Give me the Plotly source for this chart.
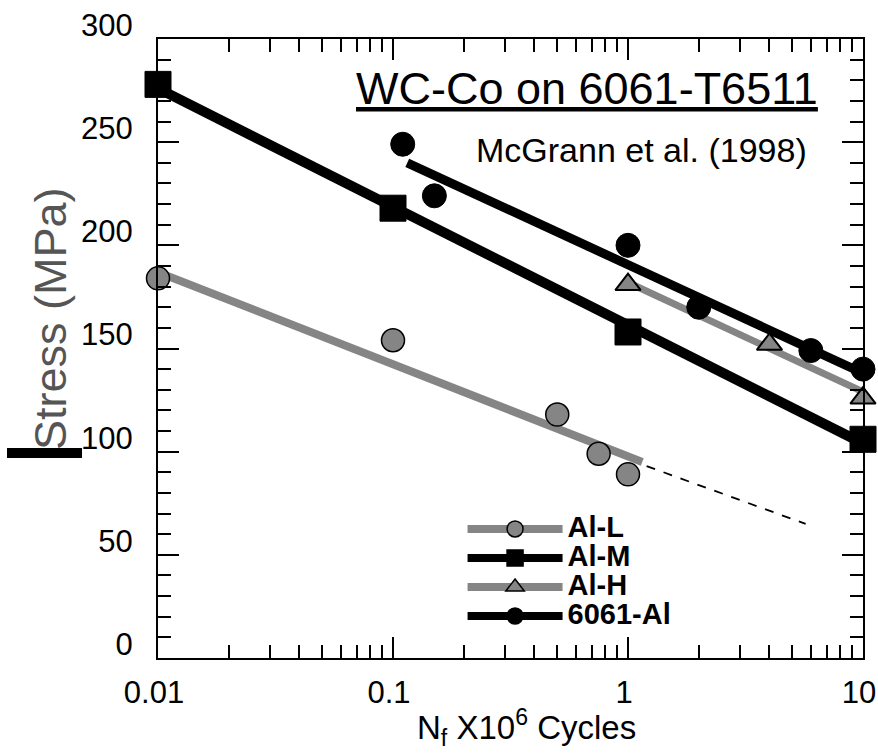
import plotly.graph_objects as go

# ---------------- data ----------------
al_l_x = [0.01, 0.1, 0.5, 0.75, 1.0]
al_l_y = [184, 154, 118, 99, 89]
al_m_x = [0.01, 0.1, 1.0, 10.0]
al_m_y = [278, 218, 158, 106]
al_h_x = [1.0, 4.0, 10.0]
al_h_y = [181, 152, 126]
al6061_x = [0.11, 0.15, 1.0, 2.0, 6.0, 10.0]
al6061_y = [249, 224, 200, 170, 149, 140]

# fitted lines (end points)
al_l_fit_x = [0.01, 1.15]
al_l_fit_y = [187, 95]
al_l_ext_x = [1.2, 5.7]
al_l_ext_y = [93, 65]
al_m_fit_x = [0.01, 10.0]
al_m_fit_y = [276, 104]
al_h_fit_x = [1.0, 10.0]
al_h_fit_y = [182, 129]
al6061_fit_x = [0.115, 10.0]
al6061_fit_y = [240, 138]

x_tickvals = [0.01, 0.1, 1, 10]
x_ticktext = ["0.01", "0.1", "1", "10"]
y_tickvals = [0, 50, 100, 150, 200, 250, 300]
y_ticktext = ["0", "50", "100", "150", "200", "250", "300"]

series_names = ["Al-L", "Al-M", "Al-H", "6061-Al"]

GRAY = "#858585"
BLACK = "#000000"
FONT = "Liberation Sans, Arial, sans-serif"

fig = go.Figure()

# fit lines
fig.add_trace(go.Scatter(x=al_l_fit_x, y=al_l_fit_y, mode="lines",
                         line=dict(color=GRAY, width=8), showlegend=False, hoverinfo="skip"))
fig.add_trace(go.Scatter(x=al_l_ext_x, y=al_l_ext_y, mode="lines",
                         line=dict(color=BLACK, width=1.8, dash="9px,9px"), showlegend=False, hoverinfo="skip"))
fig.add_trace(go.Scatter(x=al_m_fit_x, y=al_m_fit_y, mode="lines",
                         line=dict(color=BLACK, width=10), showlegend=False, hoverinfo="skip"))
fig.add_trace(go.Scatter(x=al_h_fit_x, y=al_h_fit_y, mode="lines",
                         line=dict(color=GRAY, width=7), showlegend=False, hoverinfo="skip"))
fig.add_trace(go.Scatter(x=al6061_fit_x, y=al6061_fit_y, mode="lines",
                         line=dict(color=BLACK, width=9), showlegend=False, hoverinfo="skip"))

# data markers
fig.add_trace(go.Scatter(x=al_l_x, y=al_l_y, mode="markers", cliponaxis=False,
                         marker=dict(symbol="circle", size=23, color=GRAY, line=dict(color=BLACK, width=1.5)),
                         showlegend=False))
fig.add_trace(go.Scatter(x=al_m_x, y=al_m_y, mode="markers", cliponaxis=False,
                         marker=dict(symbol="square", size=26, color=BLACK, line=dict(color=BLACK, width=1)),
                         showlegend=False))
fig.add_trace(go.Scatter(x=al_h_x, y=al_h_y, mode="markers", cliponaxis=False,
                         marker=dict(symbol="triangle-up", size=22, color=GRAY, line=dict(color=BLACK, width=2)),
                         showlegend=False))
fig.add_trace(go.Scatter(x=al6061_x, y=al6061_y, mode="markers", cliponaxis=False,
                         marker=dict(symbol="circle", size=24, color=BLACK, line=dict(color=BLACK, width=1)),
                         showlegend=False))

# legend entries
leg_styles = [
    (GRAY, "circle", GRAY),
    (BLACK, "square", BLACK),
    (GRAY, "triangle-up", GRAY),
    (BLACK, "circle", BLACK),
]
for name, (lc, sym, mc) in zip(series_names, leg_styles):
    fig.add_trace(go.Scatter(
        x=[None], y=[None], mode="lines+markers",
        name='<span style="font-size:29px"><b>' + name + '</b></span>',
        line=dict(color=lc, width=8),
        marker=dict(symbol=sym, size=22, color=mc, line=dict(color=BLACK, width=1.5)),
    ))

axis_common = dict(
    showline=True, linecolor=BLACK, linewidth=2, mirror="ticks",
    ticks="inside", tickwidth=2, tickcolor=BLACK, ticklen=21,
    showgrid=False, zeroline=False, automargin=False,
    tickfont=dict(family=FONT, size=31, color=BLACK),
)

fig.update_xaxes(
    type="log", range=[-2, 1], tickmode="array",
    tickvals=x_tickvals, ticktext=x_ticktext,
    ticklabelstandoff=6, ticklabelshift=-4,
    minor=dict(ticks="inside", ticklen=13, tickwidth=2, tickcolor=BLACK,
               tickvals=[m * 10 ** e for e in (-2, -1, 0) for m in range(2, 10)]),
    **axis_common,
)
fig.update_yaxes(
    range=[0, 300], tickmode="array",
    tickvals=y_tickvals, ticktext=y_ticktext,
    ticklabelshift=-14, ticklabelstandoff=17,
    minor=dict(ticks="inside", ticklen=13, tickwidth=2, tickcolor=BLACK, dtick=10),
    **axis_common,
)

fig.update_layout(
    width=878, height=753,
    margin=dict(l=158, r=15, t=39, b=95),
    paper_bgcolor="white", plot_bgcolor="white",
    font=dict(family=FONT, color=BLACK),
    showlegend=True,
    legend=dict(
        x=0.432, y=0.240, xanchor="left", yanchor="top",
        bgcolor="rgba(0,0,0,0)", borderwidth=0,
        font=dict(family="Liberation Sans, Arial, sans-serif", size=20, color=BLACK),
        itemwidth=95, tracegroupgap=0,
    ),
    annotations=[
        dict(text="<u>WC-Co on 6061-T6511</u>", xref="paper", yref="paper",
             x=(587 - 158) / 705, y=(658 - 89) / 619, xanchor="center", yanchor="middle",
             showarrow=False, font=dict(family=FONT, size=45, color=BLACK)),
        dict(text="McGrann et al. (1998)", xref="paper", yref="paper",
             x=(641 - 158) / 705, y=(658 - 150) / 619, xanchor="center", yanchor="middle",
             showarrow=False, font=dict(family=FONT, size=34, color=BLACK)),
        dict(text="Stress (MPa)", xref="paper", yref="paper", textangle=-90,
             x=(50 - 158) / 705, y=(658 - 319) / 619, xanchor="center", yanchor="middle",
             showarrow=False, font=dict(family=FONT, size=45, color="#555555")),
        dict(text="N<sub>f</sub> X10<sup>6</sup> Cycles", xref="paper", yref="paper",
             x=(526 - 158) / 705, y=(658 - 727) / 619, xanchor="center", yanchor="middle",
             showarrow=False, font=dict(family=FONT, size=33, color=BLACK)),
    ],
    shapes=[
        dict(type="rect", xref="paper", yref="paper",
             x0=(7 - 158) / 705, x1=(82 - 158) / 705,
             y0=(658 - 458) / 619, y1=(658 - 448) / 619,
             fillcolor=BLACK, line=dict(width=0)),
    ],
)

fig.write_html("out.html",
               config={"displayModeBar": False},
               post_script="document.body.style.margin='0px';document.body.style.overflow='hidden';")
